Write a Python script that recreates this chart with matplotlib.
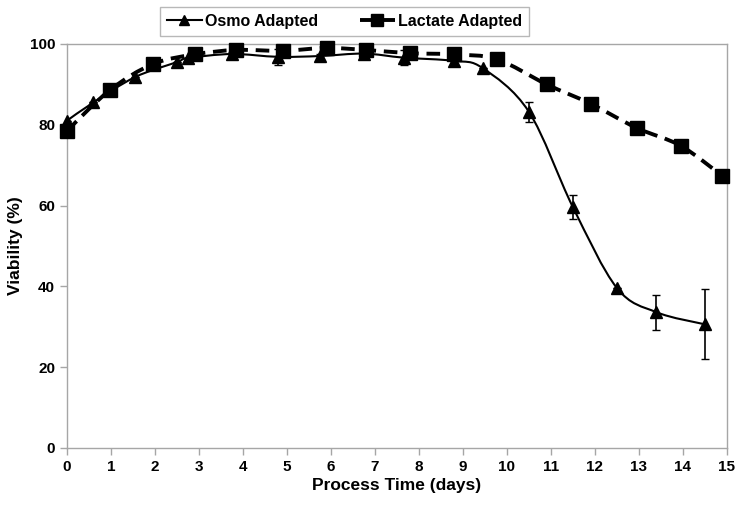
import numpy as np
import matplotlib
matplotlib.use('Agg')
import matplotlib.pyplot as plt
from matplotlib.path import Path
from matplotlib.patches import PathPatch
from matplotlib.lines import Line2D

plt.rcParams['font.family'] = ['Liberation Sans', 'DejaVu Sans']
plt.rcParams['font.weight'] = 'bold'

# Osmo adapted culture
osmo_days = [0, 0.6, 1.55, 2.5, 2.75, 3.75, 4.8, 5.75, 6.75, 7.65, 8.8, 9.45,
             10.5, 11.5, 12.5, 13.4, 14.5]
osmo_viab = [81.0, 85.5, 91.8, 95.5, 96.5, 97.5, 96.8, 97.0, 97.6, 96.6, 95.8, 94.0,
             83.2, 59.6, 39.6, 33.6, 30.6]
osmo_err = [0, 0, 0, 0, 0, 0.5, 2.0, 0.5, 1.0, 1.8, 0.5, 0,
            2.5, 2.9, 0, 4.3, 8.7]

# Lactate adapted culture
lac_days = [0, 0.98, 1.95, 2.9, 3.85, 4.9, 5.9, 6.8, 7.8, 8.8, 9.77,
            10.9, 11.9, 12.95, 13.95, 14.9]
lac_viab = [78.5, 88.6, 95.0, 97.4, 98.5, 98.3, 99.0, 98.5, 97.7, 97.4, 96.2,
            90.0, 85.2, 79.2, 74.8, 67.3]

x_ticks = list(range(0, 16))
y_ticks = [0, 20, 40, 60, 80, 100]


def smooth_path(xs, ys, t=1/6):
    # Excel-like smoothed line: cubic bezier through the points
    pts = np.column_stack([xs, ys])
    verts = [pts[0]]
    codes = [Path.MOVETO]
    n = len(pts)
    for i in range(n - 1):
        p0 = pts[i - 1] if i > 0 else pts[i]
        p1 = pts[i]
        p2 = pts[i + 1]
        p3 = pts[i + 2] if i + 2 < n else pts[i + 1]
        c1 = p1 + (p2 - p0) * t
        c2 = p2 - (p3 - p1) * t
        verts += [c1, c2, p2]
        codes += [Path.CURVE4] * 3
    return Path(verts, codes)


fig = plt.figure(figsize=(7.44, 5.07), dpi=100)
ax = fig.add_axes([0.090, 0.1164, 0.887, 0.797])

dash = (0, (3.5, 2))
ax.add_patch(PathPatch(smooth_path(osmo_days, osmo_viab), fill=False,
                       edgecolor='black', lw=1.5, zorder=3))
ax.add_patch(PathPatch(smooth_path(lac_days, lac_viab), fill=False,
                       edgecolor='black', lw=2.8, linestyle=dash, zorder=3))

ax.errorbar(osmo_days, osmo_viab, yerr=osmo_err, fmt='none', ecolor='black',
            elinewidth=1.2, capsize=3, capthick=1, zorder=4)
ax.plot(osmo_days, osmo_viab, linestyle='none', marker='^', color='black',
        markersize=8, zorder=5, clip_on=False)
ax.plot(lac_days, lac_viab, linestyle='none', marker='s', color='black',
        markersize=10, zorder=5, clip_on=False)

ax.set_xlim(0, 15)
ax.set_ylim(0, 100)
ax.set_xticks(x_ticks)
ax.set_yticks(y_ticks)
for s in ax.spines.values():
    s.set_color('#a6a6a6')
    s.set_linewidth(1.0)
ax.tick_params(axis='both', colors='#a6a6a6', length=5, width=1,
               labelcolor='black', labelsize=11)
for lab in ax.get_xticklabels() + ax.get_yticklabels():
    lab.set_fontweight('bold')

ax.set_xlabel('Process Time (days)', fontsize=12.5, fontweight='bold', labelpad=3)
ax.set_ylabel('Viability (%)', fontsize=12.5, fontweight='bold')
ax.yaxis.set_label_coords(-0.066, 0.5)

handles = [
    Line2D([0], [0], color='black', lw=1.5, marker='^', markersize=7),
    Line2D([0], [0], color='black', lw=2.8, linestyle=dash, marker='s', markersize=8),
]
leg = fig.legend(handles, ['Osmo Adapted', 'Lactate Adapted'], loc='center',
                 bbox_to_anchor=(0.463, 0.958), ncol=2, frameon=True, fancybox=False,
                 handlelength=2.2, handletextpad=0.2, columnspacing=2.6,
                 prop={'weight': 'bold', 'size': 11.5}, borderpad=0.45)
leg.get_frame().set_edgecolor('#a6a6a6')
leg.get_frame().set_linewidth(1.0)

fig.savefig('out.png', dpi=100)
